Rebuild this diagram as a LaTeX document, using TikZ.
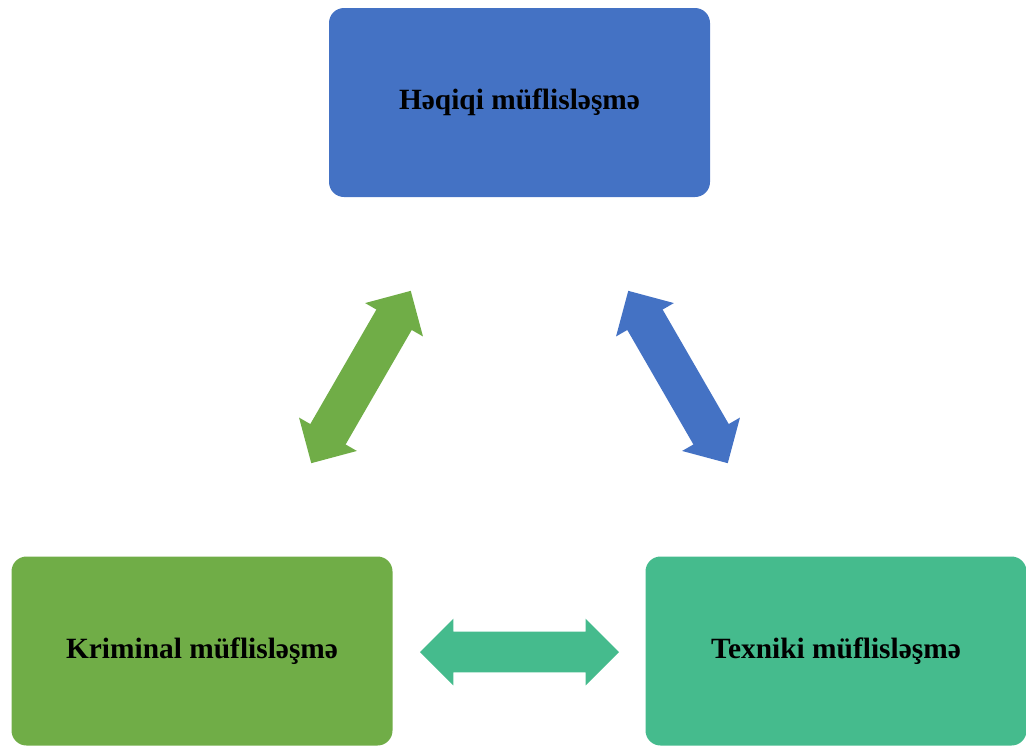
\documentclass[tikz,border=0pt]{standalone}
\usepackage{fontspec}
\setmainfont{Liberation Serif}
\usetikzlibrary{shapes.arrows}

\definecolor{boxblue}{HTML}{4472C4}
\definecolor{boxgreen}{HTML}{70AD47}
\definecolor{boxteal}{HTML}{45BB8D}

\tikzset{
  kind/.style={rectangle, rounded corners=7.5pt, minimum width=190.5pt,
    minimum height=94.5pt, inner sep=0pt, font=\fontsize{14.7}{17}\selectfont\bfseries},
  dblarr/.style={double arrow, double arrow head extend=6.5pt, minimum height=99.5pt,
    minimum width=33pt, inner xsep=0pt, inner ysep=10pt, draw=none}
}

\begin{document}
\begin{tikzpicture}[x=0.5pt,y=-0.5pt]
  \useasboundingbox (0,0) rectangle (1026,745);
  % boxes
  \node[kind, fill=boxblue] (heqiqi) at (519.5,102.5) {Həqiqi müflisləşmə};
  \node[kind, fill=boxgreen] (kriminal) at (202,651) {Kriminal müflisləşmə};
  \node[kind, fill=boxteal] (texniki) at (836,651) {Texniki müflisləşmə};
  % arrows
  \node[dblarr, fill=boxgreen, rotate=60] (arrKH) at (361,377) {};
  \node[dblarr, fill=boxblue, rotate=-60] (arrHT) at (678,377) {};
  \node[dblarr, fill=boxteal] (arrKT) at (519.5,652) {};
\end{tikzpicture}
\end{document}
